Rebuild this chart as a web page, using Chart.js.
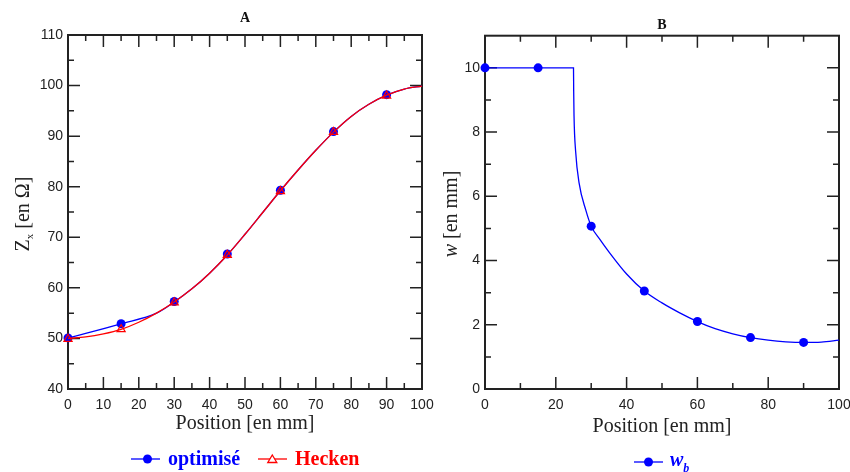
<!DOCTYPE html>
<html>
<head>
<meta charset="utf-8">
<script src="https://cdn.jsdelivr.net/npm/chart.js@4.4.0/dist/chart.umd.min.js"></script>
<style>
  html, body { margin: 0; padding: 0; background: #fff; overflow: hidden; }
  #wrap { position: relative; width: 850px; height: 472px; overflow: hidden; }
  .box { position: absolute; top: 0; height: 472px; }
  .ytitle {
    position: absolute; width: 200px; height: 24px; line-height: 24px; text-align: center;
    font: 20px "Liberation Serif", serif; color: #222; transform: rotate(-90deg); white-space: nowrap;
  }
  .ytitle sub { font-size: 11px; vertical-align: -4px; }
  .leg { position: absolute; font: bold 20px "Liberation Serif", serif; line-height: 20px; white-space: nowrap; }
  .leg sub { font-size: 12px; vertical-align: -6px; }
  svg.sym { position: absolute; overflow: visible; }
</style>
</head>
<body>
<div id="wrap">
  <div class="box" style="left:0;width:460px"><canvas id="chartA"></canvas></div>
  <div class="box" style="left:430px;width:440px"><canvas id="chartB"></canvas></div>

  <div class="ytitle" style="left:-77.5px;top:201.5px">Z<sub>x</sub> [en Ω]</div>
  <div class="ytitle" style="left:351px;top:201.5px"><i>w</i> [en mm]</div>

  <!-- legend A -->
  <svg class="sym" style="left:131px;top:459px" width="30" height="1">
    <line x1="0" y1="0" x2="29" y2="0" stroke="#0000ff" stroke-width="1.3"/>
    <circle cx="16.5" cy="0" r="4.5" fill="#0000ff"/>
  </svg>
  <div class="leg" style="left:168px;top:448px;color:#0000ff">optimisé</div>
  <svg class="sym" style="left:258px;top:459px" width="30" height="1">
    <line x1="0" y1="0" x2="29" y2="0" stroke="#ff0000" stroke-width="1.3"/>
    <polygon points="14.3,-4 18.8,3.5 9.8,3.5" fill="#fff" stroke="#ff0000" stroke-width="1.3"/>
  </svg>
  <div class="leg" style="left:295px;top:448px;color:#ff0000">Hecken</div>

  <!-- legend B -->
  <svg class="sym" style="left:634px;top:462px" width="30" height="1">
    <line x1="0" y1="0" x2="29" y2="0" stroke="#0000ff" stroke-width="1.3"/>
    <circle cx="14.5" cy="0" r="4.5" fill="#0000ff"/>
  </svg>
  <div class="leg" style="left:670px;top:449px;color:#0000ff"><i>w<sub>b</sub></i></div>
</div>

<script>
// --- chart A : impedance profile ---
const posA = [0, 15, 30, 45, 60, 75, 90];
const zOpt = [50.1, 52.9, 57.3, 66.7, 79.3, 90.9, 98.2];
const zHecken = [49.9, 51.8, 57.1, 66.5, 79.1, 90.8, 98.0];

const heckenX = [0, 5, 10, 15, 20, 25, 30, 35, 40, 45, 50, 55, 60, 65, 70, 75, 80, 85, 90, 95, 100];
const heckenY = [50, 50.3, 50.9, 51.8, 53.2, 55.0, 57.2, 59.8, 62.9, 66.5, 70.6, 74.9, 79.2, 83.3, 87.2, 90.8, 93.9, 96.3, 98.1, 99.3, 99.9];
const optX = [0, 15, 25, 30, 35, 40, 45, 50, 55, 60, 65, 70, 75, 80, 85, 90, 95, 100];
const optY = [50.1, 52.9, 55.0, 57.2, 59.8, 62.9, 66.5, 70.6, 74.9, 79.2, 83.3, 87.2, 90.8, 93.9, 96.3, 98.1, 99.3, 99.9];

const xTicksA = [0, 10, 20, 30, 40, 50, 60, 70, 80, 90, 100];
const xMinorA = [5, 15, 25, 35, 45, 55, 65, 75, 85, 95];
const yTicksA = [40, 50, 60, 70, 80, 90, 100, 110];
const yMinorA = [45, 55, 65, 75, 85, 95, 105];

// --- chart B : strip width ---
const posB = [0, 15, 30, 45, 60, 75, 90];
const wb = [10, 10, 5.07, 3.05, 2.1, 1.6, 1.45];

const wX = [0, 25, 25.05, 25.15, 25.6, 26.6, 28.5, 30, 32.5, 35, 40, 45, 50, 55, 60, 65, 70, 75, 80, 85, 90, 95, 100];
const wY = [10, 10, 9.3, 8.5, 7.4, 6.4, 5.56, 5.07, 4.65, 4.27, 3.58, 3.05, 2.68, 2.37, 2.1, 1.88, 1.72, 1.6, 1.52, 1.47, 1.45, 1.46, 1.52];

const xTicksB = [0, 20, 40, 60, 80, 100];
const xMinorB = [10, 30, 50, 70, 90];
const yTicksB = [0, 2, 4, 6, 8, 10];
const yMinorB = [1, 3, 5, 7, 9];

const BLUE = '#0000ff';
const RED = '#ff0000';
const INK = '#222';

Chart.defaults.font.family = '"Liberation Sans", Arial, sans-serif';

const pts = (xs, ys) => xs.map((x, i) => ({ x, y: ys[i] }));

// frame round the plot, with inward ticks on all four sides
const frameTicks = {
    id: 'frameTicks',
    beforeDatasetsDraw(chart, args, o) {
        const { ctx, chartArea: a, scales: { x, y } } = chart;
        ctx.save();
        ctx.strokeStyle = INK;
        ctx.lineWidth = 1.5;
        ctx.beginPath();
        const vx = (vals, len) => vals.forEach(v => {
            const p = x.getPixelForValue(v);
            ctx.moveTo(p, a.bottom); ctx.lineTo(p, a.bottom - len);
            ctx.moveTo(p, a.top); ctx.lineTo(p, a.top + len);
        });
        const vy = (vals, len) => vals.forEach(v => {
            const p = y.getPixelForValue(v);
            ctx.moveTo(a.left, p); ctx.lineTo(a.left + len, p);
            ctx.moveTo(a.right, p); ctx.lineTo(a.right - len, p);
        });
        vx(o.xMajor, 12); vx(o.xMinor, 6);
        vy(o.yMajor, 12); vy(o.yMinor, 6);
        ctx.stroke();
        ctx.lineWidth = 2;
        ctx.strokeRect(a.left, a.top, a.right - a.left, a.bottom - a.top);
        ctx.restore();
    }
};

function axes(cfg) {
    return {
        x: {
            type: 'linear', min: 0, max: 100,
            afterBuildTicks: s => { s.ticks = cfg.xTicks.map(v => ({ value: v })); },
            afterFit: s => { s.height = cfg.xHeight; },
            grid: { display: false, drawTicks: false },
            border: { display: false },
            ticks: { padding: 7.5, autoSkip: false, maxRotation: 0, color: INK, font: { size: 14 } },
            title: { display: true, text: 'Position [en mm]', color: INK, padding: 0,
                     font: { family: '"Liberation Serif", serif', size: 20 } }
        },
        y: {
            type: 'linear', min: cfg.yMin, max: cfg.yMax,
            afterBuildTicks: s => { s.ticks = cfg.yTicks.map(v => ({ value: v })); },
            afterFit: s => { s.width = cfg.yWidth; },
            grid: { display: false, drawTicks: false },
            border: { display: false },
            ticks: { padding: 5, color: INK, font: { size: 14 } }
        }
    };
}

new Chart(document.getElementById('chartA'), {
    type: 'line',
    data: {
        datasets: [
            { label: 'Hecken', data: pts(posA, zHecken), showLine: false, clip: false,
              pointStyle: 'triangle', pointRadius: 4.7, pointBorderWidth: 1.2,
              borderColor: RED, pointBackgroundColor: 'rgba(0,0,0,0)' },
            { label: 'Hecken courbe', data: pts(heckenX, heckenY), borderColor: RED, borderWidth: 1.3,
              pointRadius: 0, cubicInterpolationMode: 'monotone' },
            { label: 'optimisé', data: pts(posA, zOpt), showLine: false, clip: false,
              pointRadius: 4.5, pointBorderWidth: 0, borderColor: BLUE, pointBackgroundColor: BLUE },
            { label: 'optimisé courbe', data: pts(optX, optY), borderColor: BLUE, borderWidth: 1.3,
              pointRadius: 0, cubicInterpolationMode: 'monotone' }
        ]
    },
    options: {
        responsive: true, maintainAspectRatio: false, animation: false,
        layout: { padding: { left: 0, right: 38, top: 0, bottom: 36.5 } },
        plugins: {
            legend: { display: false },
            tooltip: { enabled: false },
            title: { display: true, text: 'A', fullSize: false, color: '#111',
                     font: { family: '"Liberation Serif", serif', size: 14, weight: 'bold' },
                     padding: { top: 9.6, bottom: 8.6 } },
            frameTicks: { xMajor: xTicksA, xMinor: xMinorA, yMajor: yTicksA, yMinor: yMinorA }
        },
        scales: axes({ xTicks: xTicksA, yTicks: yTicksA, yMin: 40, yMax: 110, xHeight: 46.5, yWidth: 68 })
    },
    plugins: [frameTicks]
});

new Chart(document.getElementById('chartB'), {
    type: 'line',
    data: {
        datasets: [
            { label: 'wb', data: pts(posB, wb), showLine: false, clip: false,
              pointRadius: 4.5, pointBorderWidth: 0, borderColor: BLUE, pointBackgroundColor: BLUE },
            { label: 'w courbe', data: pts(wX, wY), borderColor: BLUE, borderWidth: 1.3,
              pointRadius: 0, cubicInterpolationMode: 'monotone' }
        ]
    },
    options: {
        responsive: true, maintainAspectRatio: false, animation: false,
        layout: { padding: { left: 0, right: 31, top: 0, bottom: 33.3 } },
        plugins: {
            legend: { display: false },
            tooltip: { enabled: false },
            title: { display: true, text: 'B', fullSize: false, color: '#111',
                     font: { family: '"Liberation Serif", serif', size: 14, weight: 'bold' },
                     padding: { top: 16.6, bottom: 2.3 } },
            frameTicks: { xMajor: xTicksB, xMinor: xMinorB, yMajor: yTicksB, yMinor: yMinorB }
        },
        scales: axes({ xTicks: xTicksB, yTicks: yTicksB, yMin: 0, yMax: 11, xHeight: 49.7, yWidth: 55 })
    },
    plugins: [frameTicks]
});
</script>
</body>
</html>
